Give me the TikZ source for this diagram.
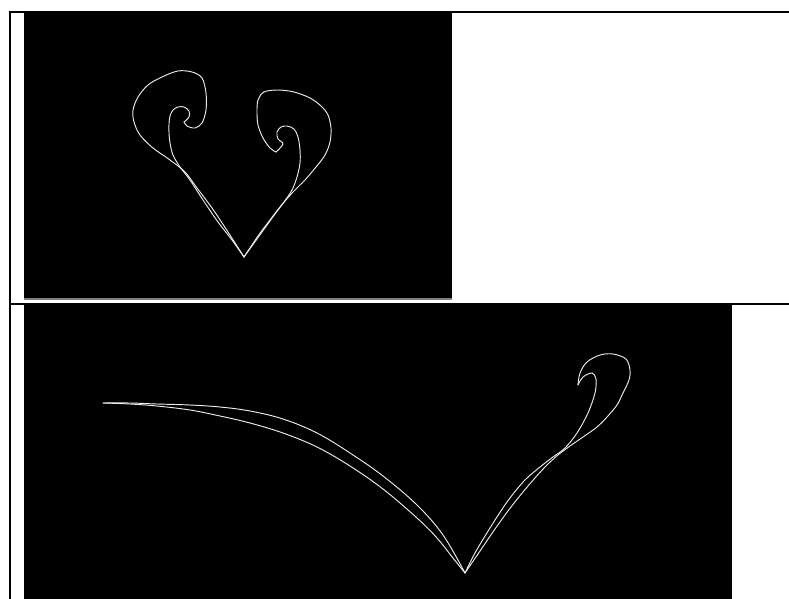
\documentclass[tikz,border=0pt]{standalone}
\begin{document}
\begin{tikzpicture}[x=1pt,y=-1pt,
  curve/.style={draw=white!92!black,line width=0.95pt,line join=round,line cap=round},
  rule/.style={fill=black}]
\useasboundingbox (0,0) rectangle (789,599);
\fill[white] (0,0) rectangle (789,599);
% table rules
\fill[rule] (9,11) rectangle (789,13);
\fill[rule] (9,11) rectangle (11,599);
\fill[rule] (9,303) rectangle (789,305);
% top picture
\fill[black] (24,13) rectangle (452,298);
\fill[gray] (24,298) rectangle (452,299.5);
% bottom picture
\fill[black] (24,303) rectangle (732,599);

% top: left spiral
\draw[curve] plot[smooth,tension=0.55] coordinates {(244,257) (228,232) (212,208) (197,188) (185,172) (170,160) (153,148) (140,135) (134,122) (133,110) (138,97) (148,85) (162,77) (178,71) (192,72) (202,78) (206,93) (206,110) (202,123) (195,128) (187,126) (184,122)};
\draw[curve] plot[smooth,tension=0.55] coordinates {(184,122) (189,117) (189,111) (184,107) (178,107) (173,110) (170,116) (169,124) (169,133) (170,143) (173,155) (180,167) (190,180) (203,200) (218,222) (232,240) (244,257)};
% top: right spiral
\draw[curve] plot[smooth,tension=0.55] coordinates {(244,257) (258,236) (270,220) (280,207) (293,192) (305,180) (316,167) (325,155) (330,142) (331,128) (328,115) (321,106) (310,98) (294,92) (278,90) (264,92) (258,100) (257,112) (258,125) (263,138) (270,148) (276,152)};
\draw[curve] plot[smooth,tension=0.55] coordinates {(276,152) (283,144) (278,139) (277,132) (281,127) (287,126) (294,129) (298,137) (300,150) (300,163) (297,177) (292,190) (284,202) (275,214) (262,232) (244,257)};

% bottom: long left lens
\draw[curve] plot[smooth,tension=0.6] coordinates {(465,573) (443,535) (417,505) (383,476) (350,453) (317,433) (283,419) (250,411) (220,407) (190,405) (157,404) (130,403) (103,403)};
\draw[curve] plot[smooth,tension=0.6] coordinates {(103,403) (130,404) (157,406) (190,410) (220,416) (250,423) (283,433) (317,447) (350,466) (383,489) (417,518) (437,538) (453,558) (465,573)};
% bottom: right hook
\draw[curve] plot[smooth,tension=0.55] coordinates {(465,573) (480,551) (495,529) (511,507) (528,486) (545,467) (558,455) (570,446) (583,437) (597,427) (607,417) (617,405) (623,393) (629,380) (630,370) (626,359) (613,354) (600,355) (587,362) (580,373) (578,385)};
\draw[curve] plot[smooth,tension=0.55] coordinates {(578,385) (583,377) (592,373) (596,379) (595,393) (588,413) (577,433) (565,448) (553,457) (540,467) (524,481) (507,502) (490,528) (475,553) (465,573)};
\end{tikzpicture}
\end{document}
